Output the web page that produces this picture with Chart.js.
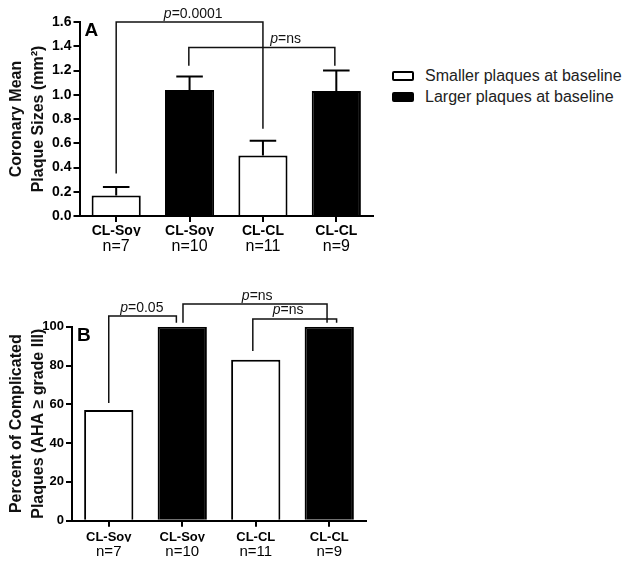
<!DOCTYPE html>
<html>
<head>
<meta charset="utf-8">
<script src="https://cdn.jsdelivr.net/npm/chart.js@4.4.1/dist/chart.umd.min.js"></script>
<style>
  html, body { margin: 0; padding: 0; background: #fff; }
  body { width: 624px; height: 565px; position: relative; overflow: hidden; font-family: 'Liberation Sans', Arial, sans-serif; }
  canvas { position: absolute; left: 0; }
  #panelA { top: 0; }
  #panelB { top: 270px; }
  #legend { position: absolute; left: 392px; top: 65px; }
  .legend-item { display: flex; align-items: center; height: 21.5px; font-size: 16px; color: #222; white-space: nowrap; }
  .legend-box { width: 22px; height: 10px; box-sizing: border-box; border: 2px solid #000; border-radius: 2px; margin-right: 11px; }
</style>
</head>
<body>
<canvas id="panelA" width="380" height="262"></canvas>
<canvas id="panelB" width="380" height="295"></canvas>
<div id="legend"></div>
<script>
// Categories
const groups = ['CL-Soy', 'CL-Soy', 'CL-CL', 'CL-CL'];
const groupSizes = ['n=7', 'n=10', 'n=11', 'n=9'];
const seriesNames = ['Smaller plaques at baseline', 'Larger plaques at baseline'];

// Panel A: coronary mean plaque size (mm2), mean + SEM
const plaqueSmaller = [0.17, null, 0.50, null];
const plaqueLarger = [null, 1.04, null, 1.03];
const plaqueSmallerErr = [0.07, null, 0.12, null];
const plaqueLargerErr = [null, 0.11, null, 0.17];
const ticksA = [0, 0.2, 0.4, 0.6, 0.8, 1.0, 1.2, 1.4, 1.6];

// Panel B: percent of complicated plaques
const complicatedSmaller = [57, null, 83, null];
const complicatedLarger = [null, 100, null, 100];
const ticksB = [0, 20, 40, 60, 80, 100];

// Significance brackets (category index, value units)
const sigA = [
    { from: 0, to: 2, top: 1.6, fromEnd: 0.35, toEnd: 0.72, text: '=0.0001', at: 1.05 },
    { from: 0.99, to: 2.98, top: 1.39, fromEnd: 1.24, toEnd: 1.24, text: '=ns', at: 2.31 }
];
const sigB = [
    { from: 0, to: 0.92, top: 105.5, fromEnd: 60.7, toEnd: 102, text: '=0.05', at: 0.45 },
    { from: 1.01, to: 2.97, top: 111.7, fromEnd: 102, toEnd: 102, text: '=ns', at: 2.02 },
    { from: 1.96, to: 3.1, top: 104, fromEnd: 87.5, toEnd: 102, text: '=ns', at: 2.44 }
];

const FONT = "'Liberation Sans', Arial, sans-serif";
const fillColors = ['#fff', '#000'];

// Error bars, brackets and panel letter
const extrasPlugin = {
    id: 'extras',
    afterDatasetsDraw(chart, args, opts) {
        if (!opts.errors) return;
        const ctx = chart.ctx;
        const y = chart.scales.y;
        ctx.save();
        ctx.strokeStyle = '#000';
        ctx.lineWidth = 2;
        opts.errors.forEach((errs, i) => {
            const values = chart.data.datasets[i].data;
            chart.getDatasetMeta(i).data.forEach((bar, j) => {
                if (errs[j] == null || values[j] == null) return;
                const top = y.getPixelForValue(values[j] + errs[j]);
                const cap = bar.width * 0.27;
                ctx.beginPath();
                ctx.moveTo(bar.x, bar.y);
                ctx.lineTo(bar.x, top);
                ctx.moveTo(bar.x - cap, top);
                ctx.lineTo(bar.x + cap, top);
                ctx.stroke();
            });
        });
        ctx.restore();
    },
    afterDraw(chart, args, opts) {
        const ctx = chart.ctx;
        const x = chart.scales.x;
        const y = chart.scales.y;
        ctx.save();
        ctx.strokeStyle = '#111';
        ctx.fillStyle = '#111';
        ctx.lineWidth = 1.5;
        (opts.brackets || []).forEach(b => {
            const x1 = x.getPixelForValue(b.from);
            const x2 = x.getPixelForValue(b.to);
            const yt = y.getPixelForValue(b.top);
            ctx.beginPath();
            ctx.moveTo(x1, y.getPixelForValue(b.fromEnd));
            ctx.lineTo(x1, yt);
            ctx.lineTo(x2, yt);
            ctx.lineTo(x2, y.getPixelForValue(b.toEnd));
            ctx.stroke();

            // italic p followed by the value
            const cx = x.getPixelForValue(b.at);
            ctx.font = 'italic 14px ' + FONT;
            const w1 = ctx.measureText('p').width;
            ctx.font = '14px ' + FONT;
            const w2 = ctx.measureText(b.text).width;
            const left = cx - (w1 + w2) / 2;
            ctx.textBaseline = 'alphabetic';
            ctx.textAlign = 'left';
            ctx.font = 'italic 14px ' + FONT;
            ctx.fillText('p', left, yt - 4.5);
            ctx.font = '14px ' + FONT;
            ctx.fillText(b.text, left + w1, yt - 4.5);
        });
        if (opts.letter) {
            ctx.fillStyle = '#000';
            ctx.font = 'bold 19px ' + FONT;
            ctx.textAlign = 'left';
            ctx.textBaseline = 'alphabetic';
            ctx.fillText(opts.letter, chart.chartArea.left + 5, chart.chartArea.top + 14);
        }
        ctx.restore();
    }
};

// Build one bar panel
function createPanel(id, p) {
    const ctx = document.getElementById(id).getContext('2d');
    return new Chart(ctx, {
        type: 'bar',
        data: {
            labels: groups,
            datasets: p.series.map((values, i) => ({
                label: seriesNames[i],
                data: values,
                backgroundColor: fillColors[i],
                borderColor: '#000',
                borderWidth: 2,
                borderSkipped: 'start',
                inflateAmount: 0,
                skipNull: true,
                categoryPercentage: 1,
                barPercentage: 0.67
            }))
        },
        options: {
            responsive: false,
            animation: false,
            layout: { padding: p.padding },
            plugins: {
                legend: { display: false },
                tooltip: { enabled: false },
                extras: { errors: p.errors, brackets: p.brackets, letter: p.letter }
            },
            scales: {
                x: {
                    position: 'bottom',
                    offset: true,
                    grid: { drawOnChartArea: false, offset: false, color: '#000', lineWidth: 2, tickLength: 6 },
                    border: { color: '#000', width: 2 },
                    ticks: { color: '#000', padding: p.tickPad[0], font: { family: FONT, size: p.xFont, weight: 'bold' } },
                    afterFit: s => { s.height = p.xHeight[0]; }
                },
                x2: {
                    type: 'category',
                    labels: groupSizes,
                    position: 'bottom',
                    offset: true,
                    grid: { display: false, drawTicks: false },
                    border: { display: false },
                    ticks: { color: '#000', padding: p.tickPad[1], font: { family: FONT, size: p.nFont } },
                    afterFit: s => { s.height = p.xHeight[1]; }
                },
                y: {
                    min: p.ticks[0],
                    max: p.ticks[p.ticks.length - 1],
                    afterBuildTicks: s => { s.ticks = p.ticks.map(v => ({ value: v })); },
                    grid: { drawOnChartArea: false, color: '#000', lineWidth: 2, tickLength: 6 },
                    border: { color: '#000', width: 2 },
                    ticks: {
                        color: '#000',
                        padding: 2,
                        font: { family: FONT, size: p.yFont, weight: 'bold' },
                        callback: p.format
                    },
                    title: {
                        display: true,
                        text: p.title,
                        color: '#111',
                        padding: { top: 6, bottom: 0 },
                        font: { family: FONT, size: 16, weight: 'bold', lineHeight: 1.375 }
                    },
                    afterFit: s => { s.width = p.yWidth; }
                }
            }
        },
        plugins: [extrasPlugin]
    });
}

// Legend built from the series names
function buildLegend() {
    const legend = document.getElementById('legend');
    legend.innerHTML = seriesNames.map((name, i) => `
        <div class="legend-item">
            <span class="legend-box" style="background:${fillColors[i]}"></span>${name}
        </div>`).join('');
}

createPanel('panelA', {
    series: [plaqueSmaller, plaqueLarger],
    errors: [plaqueSmallerErr, plaqueLargerErr],
    brackets: sigA,
    letter: 'A',
    ticks: ticksA,
    format: v => v.toFixed(1),
    title: ['Coronary Mean', 'Plaque Sizes (mm²)'],
    padding: { top: 22, right: 7, left: 0, bottom: 0 },
    yWidth: 79.5,
    xHeight: [20, 26],
    xFont: 14,
    nFont: 16,
    yFont: 14,
    tickPad: [1, 1]
});

createPanel('panelB', {
    series: [complicatedSmaller, complicatedLarger],
    errors: null,
    brackets: sigB,
    letter: 'B',
    ticks: ticksB,
    format: v => v,
    title: ['Percent of Complicated', 'Plaques (AHA ≥ grade III)'],
    padding: { top: 56.7, right: 14, left: 0, bottom: 0 },
    yWidth: 72,
    xHeight: [21, 23.3],
    xFont: 13,
    nFont: 15,
    yFont: 13,
    tickPad: [2.5, 1.3]
});

buildLegend();
</script>
</body>
</html>
